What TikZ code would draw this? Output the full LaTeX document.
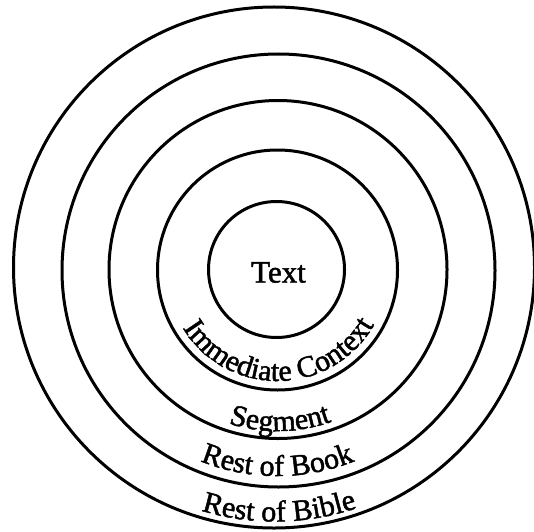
\documentclass[tikz,border=0pt]{standalone}
\usepackage{fontspec}
\setmainfont{Liberation Serif}
\newfontfamily\heavyserif[FakeBold=1.6]{Liberation Serif}
\usetikzlibrary{decorations.text}
\newcommand\lblfont{\heavyserif\fontsize{30}{33}\selectfont}
\begin{document}
\begin{tikzpicture}[x=1pt,y=1pt,
  ring/.style={circle, draw=black, line width=3pt, inner sep=0pt, fill=none},
  arclabel/.style={decorate, decoration={text along path, text align=center, text={|\lblfont|#1}}}]
\useasboundingbox (0,0) rectangle (534,531);
% centres
\coordinate (o) at (277.5,261);
\coordinate (o5) at (275,262.5);
% rings
\node[ring, minimum size=136pt] (r1) at (276.5,261.5) {};
\node[ring, minimum size=240pt] (r2) at (277.5,261) {};
\node[ring, minimum size=338pt] (r3) at (278,261.5) {};
\node[ring, minimum size=433pt] (r4) at (278.5,260.5) {};
\node[ring, minimum size=521pt] (r5) at (274,263.5) {};
% centre label
\node[inner sep=0pt, font=\heavyserif\fontsize{31}{34}\selectfont] (txt) at (278.5,258.5) {Text};
% curved labels
\path[arclabel={Immediate Context}] (o) ++(181:111) arc[start angle=181, end angle=361, radius=111];
\path[arclabel={Segment}] (o) ++(181:161) arc[start angle=181, end angle=361, radius=161];
\path[arclabel={Rest of Book}] (o) ++(180:206) arc[start angle=180, end angle=360, radius=206];
\path[arclabel={Rest of Bible}] (o5) ++(181:253) arc[start angle=181, end angle=361, radius=253];
\end{tikzpicture}
\end{document}
